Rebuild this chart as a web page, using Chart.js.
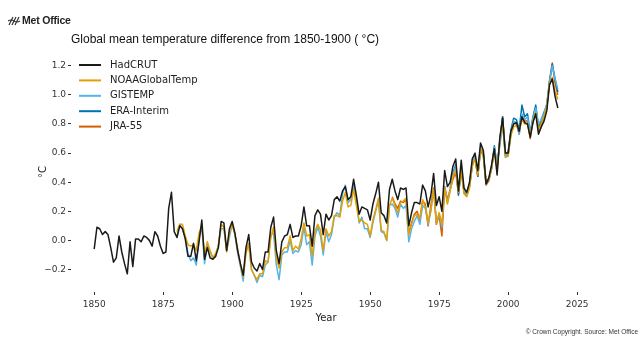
<!DOCTYPE html>
<html>
<head>
<meta charset="utf-8">
<script src="https://cdn.jsdelivr.net/npm/chart.js@4.4.1/dist/chart.umd.min.js"></script>
<style>
    body { margin: 0; background: #fff; }
    #wrap { position: relative; width: 640px; height: 340px; overflow: hidden; font-family: "Liberation Sans", Arial, sans-serif; }
    #chart { position: absolute; left: 0; top: 0; }
    .logo { position: absolute; left: 8px; top: 13px; height: 14px; line-height: 14px; font-size: 10.5px; font-weight: bold; color: #222; letter-spacing: -0.2px; }
    .logo svg { vertical-align: -2px; margin-right: 1px; }
    .title { position: absolute; left: 71px; top: 31px; font-size: 12px; line-height: 16px; color: #111; white-space: nowrap; }
    .copy { position: absolute; right: 2px; top: 328px; font-size: 6.5px; line-height: 8px; color: #333; white-space: nowrap; }
</style>
</head>
<body>
<div id="wrap">
    <canvas id="chart" width="640" height="340"></canvas>
    <div class="logo"><svg width="13" height="10" viewBox="0 0 13 10"><path d="M1 9 L5 1 M4 9 L8 1 M7 9 L11 1 M0 5 Q3 3 6 5 T12 5" stroke="#333" stroke-width="1.2" fill="none"/></svg>Met Office</div>
    <div class="title">Global mean temperature difference from 1850-1900 ( °C)</div>
    <div class="copy">© Crown Copyright. Source: Met Office</div>
</div>
<script>
// =====================================================
// Data (anomalies vs 1850-1900, °C)
// =====================================================

const hadcrutStart = 1850;
const hadcrut = [
    -0.06, 0.09, 0.08, 0.04, 0.06, 0.04, -0.05, -0.15, -0.12, 0.03,
    -0.08, -0.16, -0.23, -0.01, -0.18, 0.01, 0.01, -0.01, 0.03, 0.02,
    0.00, -0.04, 0.06, 0.03, -0.04, -0.09, -0.08, 0.22, 0.33, 0.06,
    0.02, 0.10, 0.08, 0.01, -0.11, -0.11, -0.02, -0.14, -0.01, 0.14,
    -0.13, -0.05, -0.12, -0.13, -0.11, -0.05, 0.13, 0.12, -0.07, 0.08,
    0.13, 0.05, -0.07, -0.16, -0.24, -0.05, 0.04, -0.15, -0.19, -0.21,
    -0.16, -0.20, -0.08, -0.08, 0.09, 0.16, -0.07, -0.16, -0.01, 0.03,
    0.04, 0.11, 0.02, 0.03, 0.03, 0.10, 0.23, 0.10, 0.10, -0.04,
    0.17, 0.21, 0.18, 0.04, 0.18, 0.14, 0.17, 0.28, 0.30, 0.27,
    0.34, 0.37, 0.28, 0.30, 0.42, 0.31, 0.18, 0.23, 0.22, 0.21,
    0.14, 0.25, 0.32, 0.40, 0.19, 0.17, 0.12, 0.35, 0.42, 0.34,
    0.28, 0.36, 0.35, 0.36, 0.10, 0.19, 0.26, 0.26, 0.25, 0.38,
    0.34, 0.23, 0.31, 0.46, 0.24, 0.30, 0.20, 0.48, 0.37, 0.40,
    0.51, 0.56, 0.34, 0.55, 0.36, 0.33, 0.40, 0.56, 0.60, 0.48,
    0.67, 0.62, 0.39, 0.43, 0.52, 0.63, 0.45, 0.71, 0.84, 0.60,
    0.60, 0.75, 0.80, 0.81, 0.75, 0.85, 0.81, 0.80, 0.71, 0.81,
    0.87, 0.73, 0.78, 0.82, 0.89, 1.07, 1.11, 0.99, 0.91
];

const noaaStart = 1880;
const noaa = [
    0.06, 0.11, 0.11, 0.03, -0.03, -0.04, -0.03, -0.07, 0.05, 0.10,
    -0.10, -0.01, -0.07, -0.12, -0.09, -0.04, 0.11, 0.09, -0.08, 0.05,
    0.11, 0.04, -0.06, -0.17, -0.25, -0.09, -0.02, -0.20, -0.24, -0.27,
    -0.23, -0.23, -0.14, -0.15, 0.02, 0.09, -0.12, -0.19, -0.08, -0.05,
    -0.05, 0.03, -0.07, -0.04, -0.06, 0.01, 0.12, 0.03, 0.04, -0.11,
    0.06, 0.11, 0.07, -0.07, 0.08, 0.03, 0.06, 0.17, 0.17, 0.16,
    0.27, 0.33, 0.23, 0.24, 0.35, 0.24, 0.13, 0.14, 0.12, 0.11,
    0.03, 0.14, 0.21, 0.29, 0.07, 0.06, 0.00, 0.24, 0.29, 0.24,
    0.19, 0.26, 0.27, 0.29, 0.04, 0.11, 0.17, 0.18, 0.15, 0.28,
    0.23, 0.12, 0.21, 0.35, 0.12, 0.19, 0.11, 0.36, 0.25, 0.34,
    0.44, 0.48, 0.33, 0.49, 0.32, 0.30, 0.36, 0.51, 0.56, 0.45,
    0.63, 0.59, 0.40, 0.42, 0.50, 0.61, 0.49, 0.70, 0.81, 0.58,
    0.58, 0.72, 0.78, 0.79, 0.76, 0.83, 0.80, 0.80, 0.72, 0.82,
    0.88, 0.76, 0.80, 0.85, 0.92, 1.08, 1.12, 1.02, 0.97
];

const gistempStart = 1880;
const gistemp = [
    0.03, 0.11, 0.08, 0.02, -0.09, -0.14, -0.12, -0.17, 0.02, 0.09,
    -0.16, -0.03, -0.08, -0.12, -0.11, -0.03, 0.08, 0.08, -0.07, 0.02,
    0.11, 0.04, -0.09, -0.18, -0.28, -0.07, -0.03, -0.20, -0.24, -0.29,
    -0.24, -0.25, -0.17, -0.15, 0.04, 0.05, -0.17, -0.27, -0.10, -0.08,
    -0.08, 0.00, -0.09, -0.07, -0.08, -0.03, 0.09, -0.03, -0.01, -0.17,
    0.03, 0.09, 0.03, -0.10, 0.06, -0.01, 0.04, 0.16, 0.19, 0.17,
    0.32, 0.38, 0.26, 0.28, 0.39, 0.28, 0.12, 0.16, 0.08, 0.08,
    0.02, 0.12, 0.20, 0.27, 0.06, 0.05, 0.00, 0.24, 0.25, 0.22,
    0.16, 0.25, 0.22, 0.24, -0.01, 0.08, 0.13, 0.17, 0.11, 0.24,
    0.22, 0.11, 0.20, 0.35, 0.12, 0.18, 0.09, 0.37, 0.26, 0.35,
    0.45, 0.51, 0.33, 0.50, 0.35, 0.31, 0.37, 0.51, 0.58, 0.46,
    0.64, 0.59, 0.41, 0.42, 0.50, 0.64, 0.52, 0.65, 0.80, 0.57,
    0.58, 0.73, 0.82, 0.81, 0.73, 0.87, 0.83, 0.85, 0.73, 0.84,
    0.91, 0.80, 0.83, 0.87, 0.94, 1.09, 1.20, 1.11, 1.04
];

const eraStart = 1979;
const eraInterim = [
    0.36,
    0.46, 0.52, 0.31, 0.50, 0.34, 0.32, 0.39, 0.52, 0.57, 0.44,
    0.63, 0.60, 0.39, 0.42, 0.50, 0.65, 0.51, 0.68, 0.85, 0.59,
    0.61, 0.76, 0.84, 0.83, 0.76, 0.93, 0.85, 0.87, 0.74, 0.85,
    0.93, 0.78, 0.83, 0.88, 0.93, 1.09, 1.21, 1.11, 1.02
];

const jraStart = 1958;
const jra55 = [
    0.30, 0.25,
    0.22, 0.27, 0.26, 0.28, 0.05, 0.12, 0.18, 0.20, 0.14, 0.27,
    0.25, 0.10, 0.24, 0.36, 0.11, 0.17, 0.03, 0.37, 0.28, 0.35,
    0.42, 0.47, 0.32, 0.48, 0.33, 0.31, 0.37, 0.52, 0.57, 0.44,
    0.62, 0.58, 0.38, 0.41, 0.49, 0.63, 0.50, 0.68, 0.85, 0.58,
    0.59, 0.74, 0.81, 0.80, 0.73, 0.86, 0.82, 0.82, 0.70, 0.83,
    0.91, 0.75, 0.80, 0.85, 0.91, 1.10, 1.22, 1.08, 1.00
];

const xTicks = [1850, 1875, 1900, 1925, 1950, 1975, 2000, 2025];
const yTicks = [-0.2, 0.0, 0.2, 0.4, 0.6, 0.8, 1.0, 1.2];

// pair each yearly value with its year
function toPoints(start, values) {
    return values.map((v, i) => ({ x: start + i, y: v }));
}

const tickFont = { family: '"DejaVu Sans", sans-serif', size: 9 };
const tickColor = '#333';

// =====================================================
// Legend drawn inside the plot, top-left
// =====================================================

const insideLegend = {
    id: 'insideLegend',
    afterDraw(chart) {
        const c = chart.ctx;
        c.save();
        c.font = '10px "DejaVu Sans", sans-serif';
        c.textBaseline = 'middle';
        chart.data.datasets.forEach((ds, i) => {
            const y = 65 + i * 15.4;
            c.strokeStyle = ds.borderColor;
            c.lineWidth = 2;
            c.beginPath();
            c.moveTo(79, y);
            c.lineTo(101, y);
            c.stroke();
            c.fillStyle = '#222';
            c.fillText(ds.label, 110, y);
        });
        c.restore();
    }
};

function makeSet(label, color, start, values) {
    return {
        label: label,
        data: toPoints(start, values),
        borderColor: color,
        backgroundColor: color,
        borderWidth: 1.5,
        pointRadius: 0,
        tension: 0,
        fill: false,
        borderJoinStyle: 'round'
    };
}

new Chart(document.getElementById('chart'), {
    type: 'line',
    data: {
        datasets: [
            makeSet('HadCRUT', '#1a1a1a', hadcrutStart, hadcrut),
            makeSet('NOAAGlobalTemp', '#E69F00', noaaStart, noaa),
            makeSet('GISTEMP', '#56B4E9', gistempStart, gistemp),
            makeSet('ERA-Interim', '#0072B2', eraStart, eraInterim),
            makeSet('JRA-55', '#D55E00', jraStart, jra55)
        ]
    },
    options: {
        responsive: false,
        animation: false,
        devicePixelRatio: 1,
        layout: { padding: { left: 0, right: 59, top: 52, bottom: 0 } },
        plugins: {
            legend: { display: false },
            tooltip: { enabled: false }
        },
        scales: {
            x: {
                type: 'linear',
                min: 1841.6,
                max: 2026.4,
                afterBuildTicks: s => { s.ticks = xTicks.map(v => ({ value: v })); },
                afterFit: s => { s.height = 48; },
                border: { display: false },
                grid: { drawOnChartArea: false, drawTicks: true, tickLength: 3, color: tickColor },
                ticks: {
                    font: tickFont,
                    color: tickColor,
                    padding: 4,
                    maxRotation: 0,
                    callback: v => String(v)
                },
                title: {
                    display: true,
                    text: 'Year',
                    color: '#222',
                    font: { family: '"DejaVu Sans", sans-serif', size: 10 },
                    padding: { top: 0, bottom: 16 }
                }
            },
            y: {
                min: -0.355,
                max: 1.295,
                afterBuildTicks: s => { s.ticks = yTicks.map(v => ({ value: v })); },
                afterFit: s => { s.width = 71; },
                border: { display: false },
                grid: { drawOnChartArea: false, drawTicks: true, tickLength: 3, color: tickColor },
                ticks: {
                    font: tickFont,
                    color: tickColor,
                    padding: 2,
                    callback: v => v.toFixed(1).replace('-', '\u2212')
                },
                title: {
                    display: true,
                    text: '°C',
                    color: '#222',
                    font: { family: '"DejaVu Sans", sans-serif', size: 10 },
                    padding: { top: 37, bottom: 0 }
                }
            }
        }
    },
    plugins: [insideLegend]
});
</script>
</body>
</html>
